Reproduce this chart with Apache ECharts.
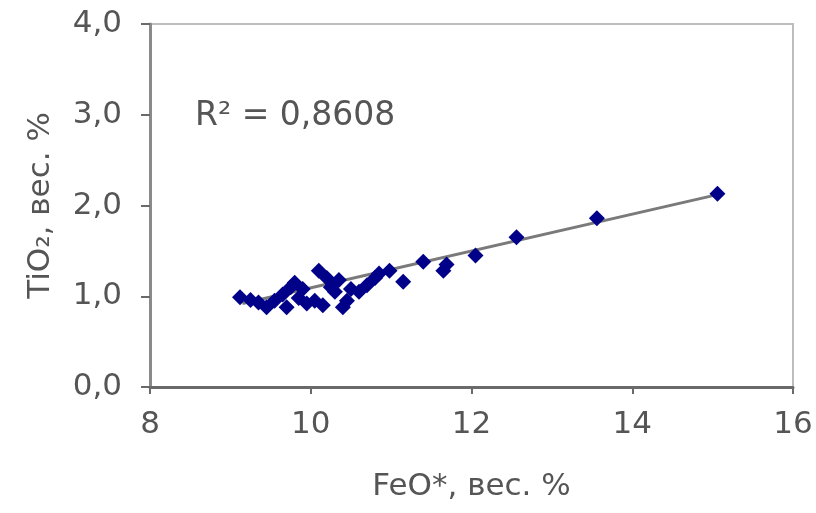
<!DOCTYPE html>
<html>
<head>
<meta charset="utf-8">
<script src="https://cdn.jsdelivr.net/npm/echarts@6/dist/echarts.min.js"></script>
<style>
  html, body { margin: 0; padding: 0; background: #fff; }
  #chart { width: 816px; height: 513px; }
</style>
</head>
<body>
<div id="chart"></div>
<script>
// FeO* values, wt %
const feo = [
  9.12, 9.25, 9.35, 9.45, 9.55, 9.65, 9.70, 9.75, 9.80, 9.85,
  9.90, 9.95, 10.05, 10.10, 10.15, 10.20, 10.25, 10.30, 10.35, 10.40,
  10.45, 10.50, 10.60, 10.70, 10.80, 10.85, 10.98, 11.15, 11.40, 11.65,
  11.69, 12.05, 12.56, 13.56, 15.06
];
// TiO2 values, wt %
const tio2 = [
  0.99, 0.96, 0.93, 0.88, 0.95, 1.02, 0.88, 1.10, 1.15, 0.98,
  1.08, 0.92, 0.95, 1.28, 0.90, 1.20, 1.10, 1.05, 1.18, 0.88,
  0.95, 1.08, 1.05, 1.12, 1.20, 1.25, 1.28, 1.16, 1.38, 1.28,
  1.35, 1.45, 1.65, 1.86, 2.13
];
// linear trend line end points
const trendX = [9.15, 15.06];
const trendY = [0.92, 2.12];

const xTicks = [8, 10, 12, 14, 16];
const yTicks = [0, 1, 2, 3, 4];
const r2Label = "R\u00b2 = 0,8608";

const chart = echarts.init(document.getElementById("chart"), null, { renderer: "canvas" });
const font = "DejaVu Sans";

const option = {
  backgroundColor: "#fff",
  animation: false,
  grid: {
    left: 150, right: 23, top: 24, bottom: 126,
    show: true, borderColor: "#bdbdbd", borderWidth: 2, backgroundColor: "#fff"
  },
  xAxis: {
    type: "value",
    min: xTicks[0], max: xTicks[xTicks.length - 1], interval: 2,
    name: "FeO*, вес. %",
    nameLocation: "middle",
    nameGap: 84,
    nameTextStyle: { fontFamily: font, fontSize: 31, color: "#555" },
    axisLine: { lineStyle: { color: "#6a6a6a", width: 3 } },
    axisTick: { show: true, length: 7, lineStyle: { color: "#6a6a6a", width: 2 } },
    axisLabel: { fontFamily: font, fontSize: 31, color: "#555", margin: 22 },
    splitLine: { show: false }
  },
  yAxis: {
    type: "value",
    min: yTicks[0], max: yTicks[yTicks.length - 1], interval: 1,
    name: "TiO\u2082, вес. %",
    nameLocation: "middle",
    nameGap: 94,
    nameTextStyle: { fontFamily: font, fontSize: 31, color: "#555" },
    axisLine: { lineStyle: { color: "#8a8a8a", width: 3 } },
    axisTick: { show: true, length: 9, lineStyle: { color: "#6a6a6a", width: 2 } },
    axisLabel: {
      fontFamily: font, fontSize: 31, color: "#555", margin: 28,
      formatter: (v) => v.toFixed(1).replace(".", ",")
    },
    splitLine: { show: false }
  },
  graphic: [
    {
      type: "text",
      left: 195, top: 100,
      style: { text: r2Label, fontFamily: font, fontSize: 33, fill: "#555" }
    }
  ],
  series: [
    {
      type: "line",
      data: trendX.map((x, i) => [x, trendY[i]]),
      showSymbol: false,
      lineStyle: { color: "#7a7a7a", width: 3 },
      z: 2
    },
    {
      type: "scatter",
      data: feo.map((x, i) => [x, tio2[i]]),
      symbol: "diamond",
      symbolSize: 16,
      itemStyle: { color: "#000088", opacity: 1 },
      z: 3
    }
  ]
};

chart.setOption(option);
</script>
</body>
</html>
